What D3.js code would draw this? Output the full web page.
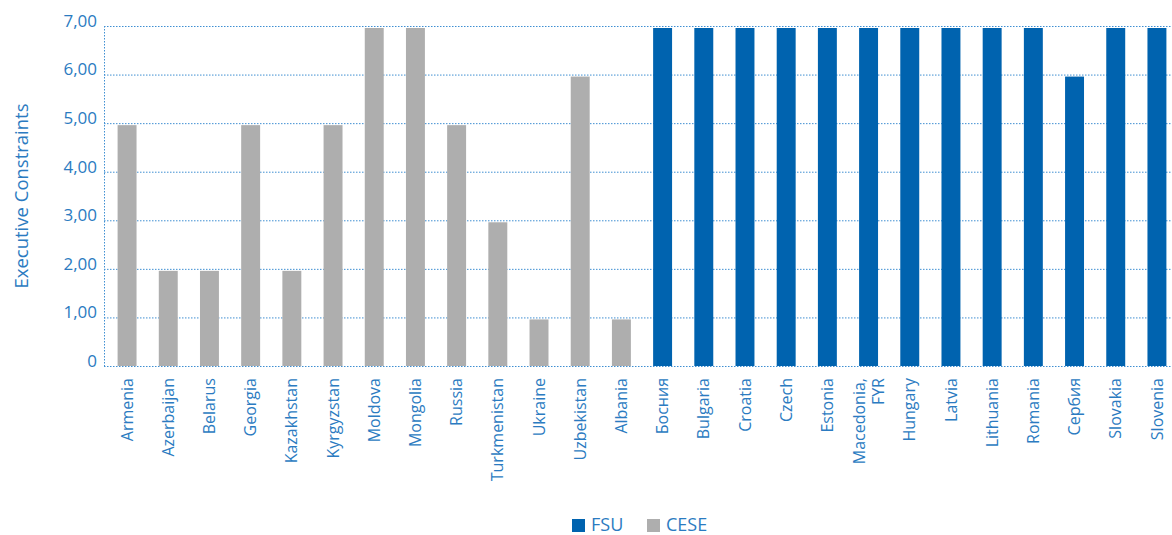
<!DOCTYPE html>
<html><head><meta charset="utf-8">
<script src="https://cdn.jsdelivr.net/npm/d3@7"></script>
<style>body{margin:0;background:#fff;} text{font-family:"Open Sans",sans-serif;}</style>
</head><body><svg id="c" width="1172" height="535"></svg>
<script>
const categories = ["Armenia","Azerbaijan","Belarus","Georgia","Kazakhstan","Kyrgyzstan","Moldova","Mongolia","Russia","Turkmenistan","Ukraine","Uzbekistan","Albania","Босния","Bulgaria","Croatia","Czech","Estonia","Macedonia, FYR","Hungary","Latvia","Lithuania","Romania","Сербия","Slovakia","Slovenia"];
const values = [5,2,2,5,2,5,7,7,5,3,1,6,1,7,7,7,7,7,7,7,7,7,7,6,7,7];
const groups = ["CESE","CESE","CESE","CESE","CESE","CESE","CESE","CESE","CESE","CESE","CESE","CESE","CESE","FSU","FSU","FSU","FSU","FSU","FSU","FSU","FSU","FSU","FSU","FSU","FSU","FSU"];
const yTicks = [0,1,2,3,4,5,6,7];
const yTickLabels = ["0","1,00","2,00","3,00","4,00","5,00","6,00","7,00"];
const legendItems = ["FSU","CESE"];
const colors = {FSU:"#0063AF", CESE:"#AEAEAE"};
const textColor = "#2B7BC1";

const svg = d3.select("#c");
const pLeft = 104, pRight = 1180, pTop = 26, pBottom = 366, gridRight = 1172;
const x = d3.scaleBand().domain(categories).range([pLeft, pRight]).paddingInner(0.54).paddingOuter(0.33);
const y = d3.scaleLinear().domain([0,7]).range([pBottom, pTop]);

// gridlines
svg.append("g").selectAll("line").data(yTicks).join("line")
  .attr("x1", pLeft).attr("x2", gridRight)
  .attr("y1", d=>y(d)+0.5).attr("y2", d=>y(d)+0.5)
  .attr("stroke", "#3f8fd2").attr("stroke-width", 1).attr("stroke-dasharray", "1.5,1.5");
svg.append("line").attr("x1", pLeft+0.5).attr("x2", pLeft+0.5).attr("y1", pTop).attr("y2", pBottom)
  .attr("stroke", "#3f8fd2").attr("stroke-dasharray", "1.5,1.5");

// bars
svg.append("g").selectAll("rect").data(categories).join("rect")
  .attr("x", d=>x(d)).attr("width", x.bandwidth())
  .attr("y", (d,i)=>y(values[i])+2).attr("height", (d,i)=>pBottom - y(values[i]) - 2)
  .attr("fill", (d,i)=>colors[groups[i]]);

// y labels
svg.append("g").selectAll("text").data(yTicks).join("text")
  .attr("x", 97).attr("y", d=>y(d)).attr("dy", "0.05em")
  .attr("text-anchor", "end").attr("fill", textColor).attr("font-size", 17)
  .text((d,i)=>yTickLabels[i]);

// y title
svg.append("text").attr("transform", "translate(28,196) rotate(-90)")
  .attr("text-anchor", "middle").attr("fill", textColor).attr("font-size", 18.5)
  .text("Executive Constraints");

// x labels
const xl = svg.append("g").selectAll("text").data(categories).join("text")
  .attr("transform", d=>`translate(${x(d)+x.bandwidth()/2},378) rotate(-90)`)
  .attr("text-anchor", "end").attr("fill", textColor).attr("font-size", 16);
xl.each(function(d){
  const parts = d.includes(",") ? [d.split(",")[0]+",", d.split(",")[1].trim()] : [d];
  const t = d3.select(this);
  if (parts.length === 1) {
    t.append("tspan").attr("x",0).attr("y",0).attr("dy","0.35em").text(parts[0]);
  } else {
    t.append("tspan").attr("x",0).attr("y",0).attr("dy","-0.25em").text(parts[0]);
    t.append("tspan").attr("x",0).attr("y",0).attr("dy","0.95em").text(parts[1]);
  }
});

// legend
const lg = svg.append("g");
const lx = [572, 647];
legendItems.forEach((k,i)=>{
  lg.append("rect").attr("x", lx[i]).attr("y", 519).attr("width", 13).attr("height", 13).attr("fill", colors[k]);
  lg.append("text").attr("x", lx[i]+19).attr("y", 525).attr("dy","0.35em")
    .attr("fill", textColor).attr("font-size", 18).text(k);
});
</script></body></html>
